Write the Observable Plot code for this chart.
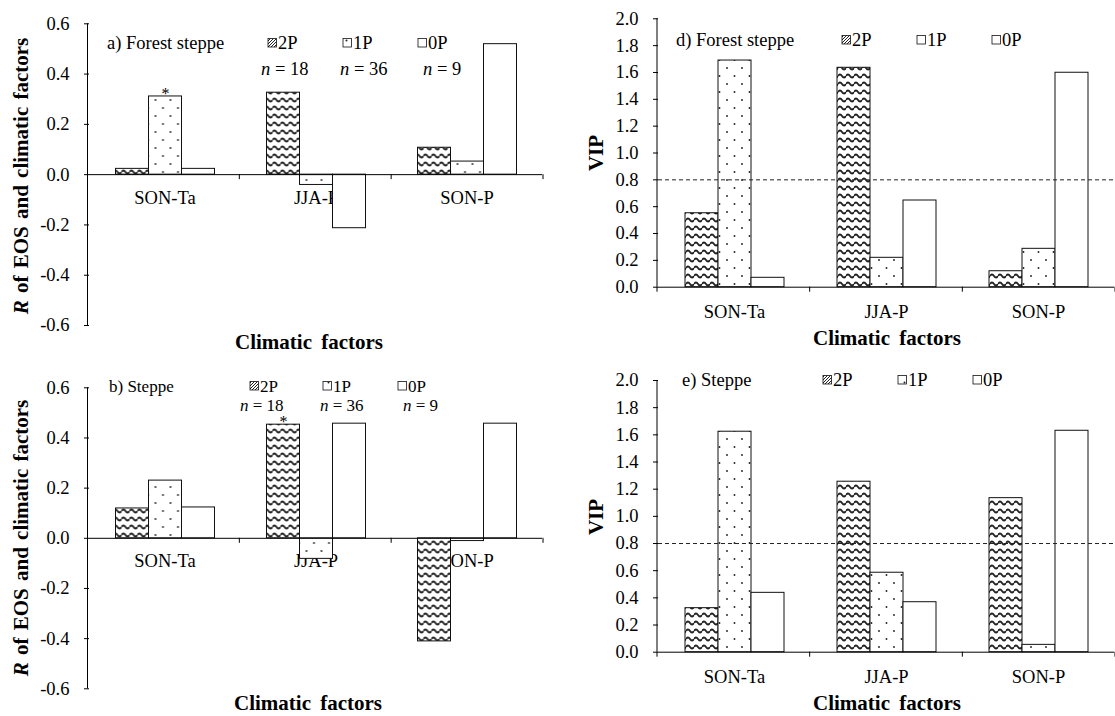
<!DOCTYPE html>
<html><head><meta charset="utf-8">
<script src="https://cdn.jsdelivr.net/npm/d3@7"></script>
<script src="https://cdn.jsdelivr.net/npm/@observablehq/plot@0.6"></script>
<style>
html,body{margin:0;padding:0;background:#fff;}
#fig{position:relative;width:1115px;height:716px;overflow:hidden;font-family:"Liberation Serif","Times New Roman",serif;background:#fff;}
#fig > svg{position:absolute;}
</style></head><body>
<svg width="0" height="0" style="position:absolute">
  <defs>
    <pattern id="pWave" patternUnits="userSpaceOnUse" width="8" height="8">
      <rect width="8" height="8" fill="white"/>
      <path d="M0 4 Q2 1 4 4 T8 4" fill="none" stroke="#222" stroke-width="1.8"/>
    </pattern>
    <pattern id="pDots" patternUnits="userSpaceOnUse" width="15" height="16">
      <rect width="15" height="16" fill="white"/>
      <circle cx="4" cy="4" r="0.95" fill="#222"/>
      <circle cx="11.5" cy="12" r="0.95" fill="#222"/>
    </pattern>
    <pattern id="pWaveIcon" patternUnits="userSpaceOnUse" width="3" height="3">
      <rect width="3" height="3" fill="white"/>
      <path d="M0 3 L3 0" stroke="#222" stroke-width="1"/>
    </pattern>
    <pattern id="pDotsIcon" patternUnits="userSpaceOnUse" width="9" height="9">
      <rect width="9" height="9" fill="white"/>
      <circle cx="4.5" cy="4.5" r="1" fill="#222"/>
    </pattern>
  </defs>
</svg>
<div id="fig"></div>
<script>
// ---------- data ----------
const factors = ["SON-Ta", "JJA-P", "SON-P"];
const groups = ["2P", "1P", "0P"];
const groupN = [18, 36, 9];

const rForest2P = [0.023, 0.326, 0.107];
const rForest1P = [0.311, -0.041, 0.052];
const rForest0P = [0.023, -0.213, 0.519];

const rSteppe2P = [0.119, 0.453, -0.411];
const rSteppe1P = [0.230, -0.082, -0.011];
const rSteppe0P = [0.123, 0.457, 0.457];

const vipForest2P = [0.551, 1.635, 0.119];
const vipForest1P = [1.689, 0.219, 0.286];
const vipForest0P = [0.070, 0.646, 1.598];

const vipSteppe2P = [0.324, 1.255, 1.134];
const vipSteppe1P = [1.623, 0.585, 0.054];
const vipSteppe0P = [0.437, 0.368, 1.630];

const sigForest = [{factor: "SON-Ta", group: "1P"}];
const sigSteppe = [{factor: "JJA-P", group: "2P"}];

const rTicks = [-0.6, -0.4, -0.2, 0, 0.2, 0.4, 0.6];
const vipTicks = [0, 0.2, 0.4, 0.6, 0.8, 1.0, 1.2, 1.4, 1.6, 1.8, 2.0];
const vipThreshold = 0.8;

// ---------- helpers ----------
const fills = ["url(#pWave)", "url(#pDots)", "white"];
const iconFills = ["url(#pWaveIcon)", "url(#pDotsIcon)", "white"];

function table(s2, s1, s0) {
  const series = [s2, s1, s0];
  const out = [];
  factors.forEach((f, i) => groups.forEach((g, j) => out.push({factor: f, group: g, value: series[j][i]})));
  return out;
}
function withValues(sig, data) {
  return sig.map(s => ({...s, value: data.find(d => d.factor === s.factor && d.group === s.group).value}));
}

const fig = d3.select("#fig");

function panel(o) {
  const marks = [];
  marks.push(Plot.text(factors, {fx: d => d, y: () => 0, text: d => d, dy: o.labelDy, fill: "black"}));
  groups.forEach((g, j) => {
    marks.push(Plot.barY(o.data.filter(d => d.group === g), {
      fx: "factor", x: "group", y: "value", fill: fills[j], stroke: "#111", strokeWidth: 1
    }));
  });
  if (o.threshold != null) marks.push(Plot.ruleY([o.threshold], {stroke: "#222", strokeDasharray: "4,3", strokeWidth: 1}));
  marks.push(Plot.ruleY([0], {stroke: "black", strokeWidth: 1}));
  if (o.sig) marks.push(Plot.text(withValues(o.sig, o.data), {fx: "factor", x: "group", y: "value", text: () => "*", dy: -3, fontSize: 16, fill: "black"}));
  marks.push(Plot.axisY({ticks: o.ticks, tickFormat: d => d.toFixed(1), tickSize: 5, tickPadding: 15, label: null, stroke: "black"}));

  const svg = Plot.plot({
    width: o.width, height: o.height,
    marginLeft: o.ml, marginRight: o.mr, marginTop: o.mt, marginBottom: o.mb,
    fx: {domain: factors, padding: 0, axis: null, label: null},
    x: {domain: groups, paddingInner: 0, paddingOuter: 0.75, axis: null},
    y: {domain: o.domain},
    style: {fontFamily: '"Liberation Serif", "Times New Roman", serif', fontSize: "18.5px", color: "black", background: "transparent", overflow: "visible"},
    marks
  });
  svg.style.position = "absolute";
  svg.style.left = o.left + "px";
  svg.style.top = o.top + "px";
  svg.style.maxWidth = "none";
  fig.node().appendChild(svg);

  // axis line and category boundary ticks, positioned via Plot's scales
  const s = d3.select(svg);
  let y0, bounds;
  try {
    const ys = svg.scale("y");
    y0 = d3.scaleLinear(ys.domain, ys.range)(0);
  } catch (e) { y0 = o.height - o.mb; }
  try {
    const fs = svg.scale("fx");
    const band = d3.scaleBand(fs.domain, fs.range).paddingInner(fs.paddingInner || 0).paddingOuter(fs.paddingOuter || 0);
    bounds = factors.map(f => band(f)).concat([band(factors[factors.length - 1]) + band.step()]);
  } catch (e) {
    const step = (o.width - o.ml - o.mr) / factors.length;
    bounds = d3.range(factors.length + 1).map(i => o.ml + i * step);
  }
  s.append("line").attr("x1", o.ml).attr("x2", o.ml).attr("y1", o.mt).attr("y2", o.height - o.mb)
    .attr("stroke", "black").attr("stroke-width", 1);
  bounds.forEach(b => s.append("line").attr("x1", b).attr("x2", b).attr("y1", y0).attr("y2", y0 + 5)
    .attr("stroke", "black").attr("stroke-width", 1));
}

const dataA = table(rForest2P, rForest1P, rForest0P);
const dataB = table(rSteppe2P, rSteppe1P, rSteppe0P);
const dataD = table(vipForest2P, vipForest1P, vipForest0P);
const dataE = table(vipSteppe2P, vipSteppe1P, vipSteppe0P);

panel({data: dataA, domain: [-0.6, 0.6], ticks: rTicks, left: 0, top: 0, width: 557, height: 355, ml: 87.5, mr: 14, mt: 23.3, mb: 30, labelDy: 23, sig: sigForest});
panel({data: dataB, domain: [-0.6, 0.6], ticks: rTicks, left: 0, top: 355, width: 557, height: 361, ml: 87.5, mr: 14, mt: 32.3, mb: 27.7, labelDy: 23, sig: sigSteppe});
panel({data: dataD, domain: [0, 2], ticks: vipTicks, left: 557, top: 0, width: 558, height: 355, ml: 100, mr: 0, mt: 18.3, mb: 68.3, labelDy: 25, threshold: vipThreshold});
panel({data: dataE, domain: [0, 2], ticks: vipTicks, left: 557, top: 355, width: 558, height: 361, ml: 100, mr: 0, mt: 25, mb: 64.3, labelDy: 25, threshold: vipThreshold});

// ---------- annotation overlay (titles, legends, axis titles) ----------
const ov = fig.append("svg").attr("width", 1115).attr("height", 716)
  .style("left", "0px").style("top", "0px")
  .attr("font-family", '"Liberation Serif", "Times New Roman", serif').attr("font-size", 18.5);

function legend(title, tx, ty, iconXs, nXs, ny, fs, icons) {
  const g0 = ov.append("g").attr("font-size", fs);
  g0.append("text").attr("x", tx).attr("y", ty).attr("dy", "0.35em").text(title);
  groups.forEach((g, j) => {
    g0.append("rect").attr("x", iconXs[j]).attr("y", ty - 4.5).attr("width", 8.5).attr("height", 8.5)
      .attr("fill", icons[j]).attr("stroke", "#111").attr("stroke-width", 0.8);
    g0.append("text").attr("x", iconXs[j] + 10).attr("y", ty).attr("dy", "0.35em").text(g);
    if (nXs) {
      const t = g0.append("text").attr("x", nXs[j]).attr("y", ny).attr("dy", "0.35em");
      t.append("tspan").attr("font-style", "italic").text("n");
      t.append("tspan").text(" = " + groupN[j]);
    }
  });
}
legend("a) Forest steppe", 107, 43, [268, 343, 418], [261, 340, 423], 69, 18.5, iconFills);
legend("b) Steppe", 109, 386, [250, 323, 398], [240, 320, 403], 405, 17, iconFills);
legend("d) Forest steppe", 676, 40, [842, 917, 992], null, 0, 18.5, [iconFills[0], "white", "white"]);
legend("e) Steppe", 682, 380, [823, 898, 973], null, 0, 18.5, iconFills);

function yTitleR(cx, cy) {
  const t = ov.append("text").attr("transform", `translate(${cx},${cy}) rotate(-90)`)
    .attr("text-anchor", "middle").attr("dy", "0.35em").attr("font-weight", "bold").attr("font-size", 21)
    .attr("word-spacing", 2);
  t.append("tspan").attr("font-style", "italic").text("R");
  t.append("tspan").text(" of EOS and climatic factors");
}
function yTitleVIP(cx, cy) {
  ov.append("text").attr("transform", `translate(${cx},${cy}) rotate(-90)`)
    .attr("text-anchor", "middle").attr("dy", "0.35em").attr("font-weight", "bold").attr("font-size", 21).text("VIP");
}
function xTitle(cx, cy) {
  ov.append("text").attr("x", cx).attr("y", cy).attr("dy", "0.35em").attr("text-anchor", "middle")
    .attr("font-weight", "bold").attr("font-size", 21).attr("word-spacing", 4).text("Climatic factors");
}
yTitleR(21, 176); yTitleR(21, 538);
yTitleVIP(596, 153); yTitleVIP(596, 517);
xTitle(309, 342); xTitle(308, 703); xTitle(887, 338); xTitle(887, 703);
</script>
</body></html>
